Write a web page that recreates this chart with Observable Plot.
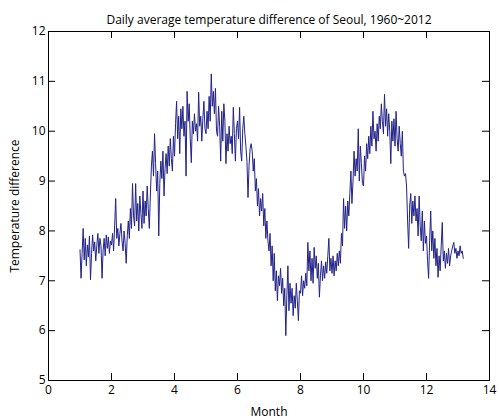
<!DOCTYPE html>
<html><head><meta charset="utf-8">
<script src="https://cdn.jsdelivr.net/npm/d3@7"></script>
<script src="https://cdn.jsdelivr.net/npm/@observablehq/plot@0.6"></script>
<style>body{margin:0;background:#fff;} svg{display:block;}</style>
</head><body><div id="chart"></div>
<script>
const title = "Daily average temperature difference of Seoul, 1960~2012";
const xLabel = "Month";
const yLabel = "Temperature difference";
const xTicks = [0, 2, 4, 6, 8, 10, 12, 14];
const yTicks = [5, 6, 7, 8, 9, 10, 11, 12];
const firstMonth = 1;
const daysPerMonthUnit = 30;
const tempDiff = [
  7.62, 7.05, 7.55, 8.05, 7.42, 7.85, 7.30, 7.72, 7.48, 7.90, 7.02, 7.55, 7.92, 7.60, 7.78, 7.40, 7.70, 7.95, 7.55, 7.85, 7.70, 7.05, 7.60, 7.85, 7.50, 7.92, 7.65, 7.88, 7.55, 7.80,
  7.72, 7.95, 7.60, 8.10, 8.65, 7.85, 8.05, 7.70, 7.95, 8.15, 7.80, 7.60, 8.00, 7.75, 7.35, 7.90, 8.20, 7.85, 8.45, 8.05, 8.95, 8.30, 8.10, 8.95, 8.20, 8.55, 8.00, 8.70, 8.35, 8.05,
  8.80, 8.15, 8.60, 8.30, 8.90, 8.45, 8.05, 8.70, 9.30, 9.60, 9.10, 9.95, 9.35, 8.80, 9.20, 7.90, 8.95, 9.40, 9.05, 9.60, 8.70, 9.25, 9.55, 9.15, 9.70, 9.30, 9.85, 9.45, 9.20, 9.90,
  9.50, 10.15, 10.60, 9.85, 10.30, 9.55, 10.45, 10.05, 10.50, 9.90, 10.20, 9.10, 10.80, 10.20, 10.55, 9.85, 9.37, 10.20, 9.95, 10.35, 10.00, 10.15, 9.80, 10.78, 10.10, 10.30, 9.80, 10.25, 10.60, 10.05,
  9.95, 10.40, 10.05, 10.70, 10.20, 11.15, 10.50, 10.80, 10.35, 10.86, 10.00, 9.90, 10.50, 10.10, 9.40, 10.40, 9.80, 10.55, 10.20, 9.35, 9.95, 9.60, 10.10, 9.75, 9.90, 9.55, 10.48, 9.95, 9.40, 10.05,
  10.20, 9.85, 10.48, 9.60, 9.40, 10.05, 10.30, 9.95, 9.70, 9.40, 8.67, 9.30, 9.65, 9.75, 9.60, 9.20, 9.45, 8.80, 9.05, 8.50, 8.85, 8.30, 8.65, 8.40, 8.75, 8.10, 8.45, 7.85, 8.20, 7.80,
  7.60, 7.95, 7.30, 7.70, 7.00, 7.55, 6.80, 7.20, 6.60, 7.10, 6.90, 7.25, 6.75, 7.05, 6.50, 6.85, 5.90, 6.70, 7.30, 6.40, 6.95, 6.55, 6.85, 6.30, 6.70, 6.45, 6.95, 6.60, 6.20, 6.80,
  6.75, 7.10, 6.70, 7.00, 6.85, 7.15, 6.90, 7.77, 7.20, 7.60, 7.00, 7.45, 6.95, 7.67, 7.25, 7.50, 7.05, 7.35, 6.67, 7.10, 7.40, 7.00, 7.30, 7.05, 7.38, 7.15, 7.50, 7.85, 7.20, 7.45,
  7.15, 7.50, 7.10, 7.40, 7.20, 7.55, 7.30, 7.60, 7.35, 7.95, 7.70, 8.65, 8.05, 8.50, 8.00, 8.60, 8.30, 8.75, 9.20, 8.55, 9.00, 9.60, 9.10, 9.45, 9.20, 10.05, 9.00, 9.70, 9.35, 8.95,
  8.90, 9.50, 9.20, 9.75, 9.45, 9.90, 9.55, 10.10, 9.70, 10.40, 9.85, 10.00, 9.60, 10.15, 9.80, 10.30, 10.05, 10.55, 10.20, 9.95, 10.74, 10.10, 10.45, 9.90, 10.35, 10.00, 9.35, 10.20, 9.80, 10.25,
  9.70, 10.40, 9.85, 9.60, 10.10, 9.75, 9.50, 10.00, 9.20, 9.10, 9.15, 8.90, 8.20, 7.65, 8.50, 8.75, 8.15, 8.60, 8.30, 8.70, 8.20, 8.45, 7.90, 8.70, 8.10, 7.80, 8.40, 7.60, 8.20, 7.75,
  7.90, 7.40, 7.05, 7.80, 8.40, 7.60, 8.00, 7.45, 7.85, 7.30, 7.65, 7.07, 7.50, 7.20, 7.70, 8.17, 7.40, 7.60, 7.25, 7.55, 7.35, 7.65, 7.30, 7.50, 7.60, 7.70, 7.77, 7.55, 7.65, 7.45, 7.60, 7.50, 7.70, 7.55, 7.60, 7.45
];
const data = tempDiff.map((v, i) => ({month: firstMonth + i / daysPerMonthUnit, value: v}));

const W = 499, H = 419, mL = 48, mR = 10, mT = 31, mB = 39;
const pw = W - mL - mR, ph = H - mT - mB, tk = 7;

const chart = Plot.plot({
  width: W, height: H,
  marginLeft: mL, marginRight: mR, marginTop: mT, marginBottom: mB,
  style: {fontFamily: "'Open Sans', sans-serif", fontSize: "12px", color: "#000", background: "#fff"},
  x: {domain: [0, 14]},
  y: {domain: [5, 12]},
  marks: [
    Plot.line(data, {x: "month", y: "value", stroke: "#22228a", strokeWidth: 1}),
    Plot.frame({stroke: "#000"}),
    Plot.tickX(xTicks, {x: d => d, insetTop: ph - tk, stroke: "#000"}),
    Plot.tickX(xTicks, {x: d => d, insetBottom: ph - tk, stroke: "#000"}),
    Plot.tickY(yTicks, {y: d => d, insetRight: pw - tk, stroke: "#000"}),
    Plot.tickY(yTicks, {y: d => d, insetLeft: pw - tk, stroke: "#000"}),
    Plot.axisX({ticks: xTicks, tickSize: 0, tickPadding: 5, label: xLabel, labelArrow: "none", labelAnchor: "center", labelOffset: 35, tickFormat: d => String(d)}),
    Plot.axisY({ticks: yTicks, tickSize: 0, tickPadding: 3, label: yLabel, labelArrow: "none", labelAnchor: "center", labelOffset: 38, tickFormat: d => String(d)}),
    Plot.text([title], {frameAnchor: "top", dy: -16, text: d => d, fontSize: 12})
  ]
});
document.getElementById("chart").append(chart);
</script>
</body></html>
